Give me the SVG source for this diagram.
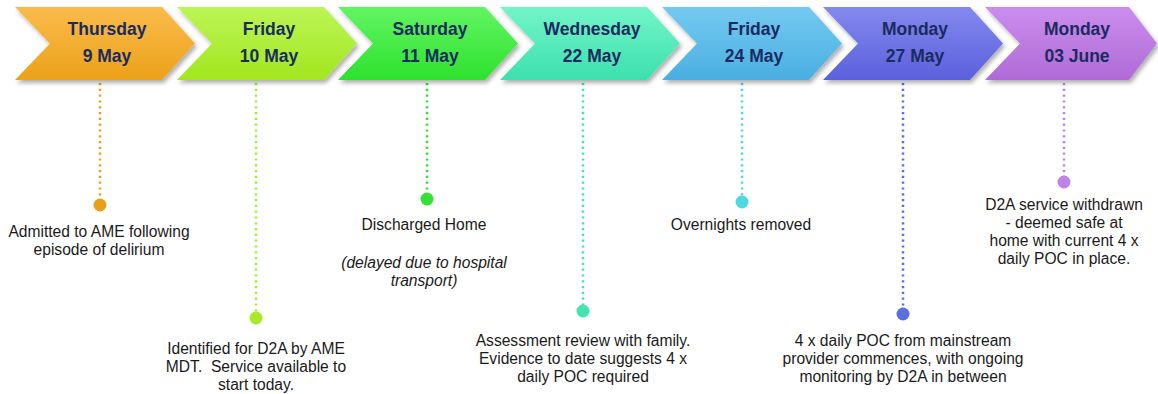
<svg xmlns="http://www.w3.org/2000/svg" width="1158" height="394" viewBox="0 0 1158 394">
  <style>
    .day { font-family: "Liberation Sans", Arial, sans-serif; font-weight: bold; font-size: 17.5px; fill: #1a2b5f; text-anchor: middle; }
    .note { font-family: "Liberation Sans", Arial, sans-serif; font-size: 15.6px; fill: #1a1a1a; text-anchor: middle; }
    .it { font-style: italic; }
    .stem { fill: none; stroke-width: 2.5; stroke-dasharray: 2.2 3.6; }
  </style>
  <defs>
    <filter id="shadow" x="-10%" y="-20%" width="125%" height="150%">
      <feDropShadow dx="2" dy="3" stdDeviation="2" flood-color="#000" flood-opacity="0.32"/>
    </filter>
    <linearGradient id="g1" x1="0" y1="0" x2="0" y2="1"><stop offset="0" stop-color="#fabb4b"/><stop offset="1" stop-color="#eca11a"/></linearGradient>
    <linearGradient id="g2" x1="0" y1="0" x2="0" y2="1"><stop offset="0" stop-color="#bcf556"/><stop offset="1" stop-color="#a2e61f"/></linearGradient>
    <linearGradient id="g3" x1="0" y1="0" x2="0" y2="1"><stop offset="0" stop-color="#62f562"/><stop offset="1" stop-color="#2ee12e"/></linearGradient>
    <linearGradient id="g4" x1="0" y1="0" x2="0" y2="1"><stop offset="0" stop-color="#72f5c8"/><stop offset="1" stop-color="#3de0ae"/></linearGradient>
    <linearGradient id="g5" x1="0" y1="0" x2="0" y2="1"><stop offset="0" stop-color="#74caf0"/><stop offset="1" stop-color="#4aaee2"/></linearGradient>
    <linearGradient id="g6" x1="0" y1="0" x2="0" y2="1"><stop offset="0" stop-color="#8389ee"/><stop offset="1" stop-color="#5b60dc"/></linearGradient>
    <linearGradient id="g7" x1="0" y1="0" x2="0" y2="1"><stop offset="0" stop-color="#cb8eec"/><stop offset="1" stop-color="#b06ad8"/></linearGradient>
  </defs>

  <!-- connectors: dotted stems from each date to its event marker -->
  <g id="connectors">
    <line class="stem" x1="100" y1="83" x2="100" y2="203" stroke="#e8a020"/>
    <line class="stem" x1="256" y1="83" x2="256" y2="316" stroke="#a8ea2a"/>
    <line class="stem" x1="427" y1="83" x2="427" y2="197" stroke="#35e035"/>
    <line class="stem" x1="583" y1="83" x2="583" y2="309" stroke="#45e3b0"/>
    <line class="stem" x1="742" y1="83" x2="742" y2="200" stroke="#4fd8e4"/>
    <line class="stem" x1="903" y1="83" x2="903" y2="312" stroke="#5b6fe0"/>
    <line class="stem" x1="1064" y1="83" x2="1064" y2="180" stroke="#c084e6"/>
  </g>

  <g id="day1">
    <polygon points="15,7 162,7 195,43.5 162,80 15,80 50,43.5" fill="url(#g1)" filter="url(#shadow)"/>
    <text class="day" x="107" y="35">Thursday</text>
    <text class="day" x="107" y="62">9 May</text>
    <circle cx="100" cy="205" r="6.5" fill="#e89f1c"/>
    <text class="note" x="99" y="237">Admitted to AME following</text>
    <text class="note" x="99" y="255">episode of delirium</text>
  </g>

  <g id="day2">
    <polygon points="177,7 324,7 357,43.5 324,80 177,80 212,43.5" fill="url(#g2)" filter="url(#shadow)"/>
    <text class="day" x="269" y="35">Friday</text>
    <text class="day" x="269" y="62">10 May</text>
    <circle cx="256" cy="318" r="6.5" fill="#a8ea2a"/>
    <text class="note" x="256" y="354">Identified for D2A by AME</text>
    <text class="note" x="256" y="372" xml:space="preserve">MDT.  Service available to</text>
    <text class="note" x="256" y="390">start today.</text>
  </g>

  <g id="day3">
    <polygon points="338,7 485,7 518,43.5 485,80 338,80 373,43.5" fill="url(#g3)" filter="url(#shadow)"/>
    <text class="day" x="430" y="35">Saturday</text>
    <text class="day" x="430" y="62">11 May</text>
    <circle cx="427" cy="199" r="6.5" fill="#35e035"/>
    <text class="note" x="424" y="230">Discharged Home</text>
    <text class="note it" x="424" y="268">(delayed due to hospital</text>
    <text class="note it" x="424" y="286">transport)</text>
  </g>

  <g id="day4">
    <polygon points="500,7 647,7 680,43.5 647,80 500,80 535,43.5" fill="url(#g4)" filter="url(#shadow)"/>
    <text class="day" x="592" y="35">Wednesday</text>
    <text class="day" x="592" y="62">22 May</text>
    <circle cx="583" cy="311" r="6.5" fill="#45e3b0"/>
    <text class="note" x="583" y="346">Assessment review with family.</text>
    <text class="note" x="583" y="364">Evidence to date suggests 4 x</text>
    <text class="note" x="583" y="382">daily POC required</text>
  </g>

  <g id="day5">
    <polygon points="662,7 809,7 842,43.5 809,80 662,80 697,43.5" fill="url(#g5)" filter="url(#shadow)"/>
    <text class="day" x="754" y="35">Friday</text>
    <text class="day" x="754" y="62">24 May</text>
    <circle cx="742" cy="202" r="6.5" fill="#4fd8e4"/>
    <text class="note" x="741" y="230">Overnights removed</text>
  </g>

  <g id="day6">
    <polygon points="823,7 970,7 1003,43.5 970,80 823,80 858,43.5" fill="url(#g6)" filter="url(#shadow)"/>
    <text class="day" x="915" y="35">Monday</text>
    <text class="day" x="915" y="62">27 May</text>
    <circle cx="903" cy="314" r="6.5" fill="#5b6fe0"/>
    <text class="note" x="903" y="346">4 x daily POC from mainstream</text>
    <text class="note" x="903" y="364">provider commences, with ongoing</text>
    <text class="note" x="903" y="382">monitoring by D2A in between</text>
  </g>

  <g id="day7">
    <polygon points="985,7 1129,7 1157,43.5 1129,80 985,80 1020,43.5" fill="url(#g7)" filter="url(#shadow)"/>
    <text class="day" x="1077" y="35">Monday</text>
    <text class="day" x="1077" y="62">03 June</text>
    <circle cx="1064" cy="182" r="6.5" fill="#c084e6"/>
    <text class="note" x="1064" y="210">D2A service withdrawn</text>
    <text class="note" x="1064" y="228">- deemed safe at</text>
    <text class="note" x="1064" y="246">home with current 4 x</text>
    <text class="note" x="1064" y="264">daily POC in place.</text>
  </g>
</svg>
